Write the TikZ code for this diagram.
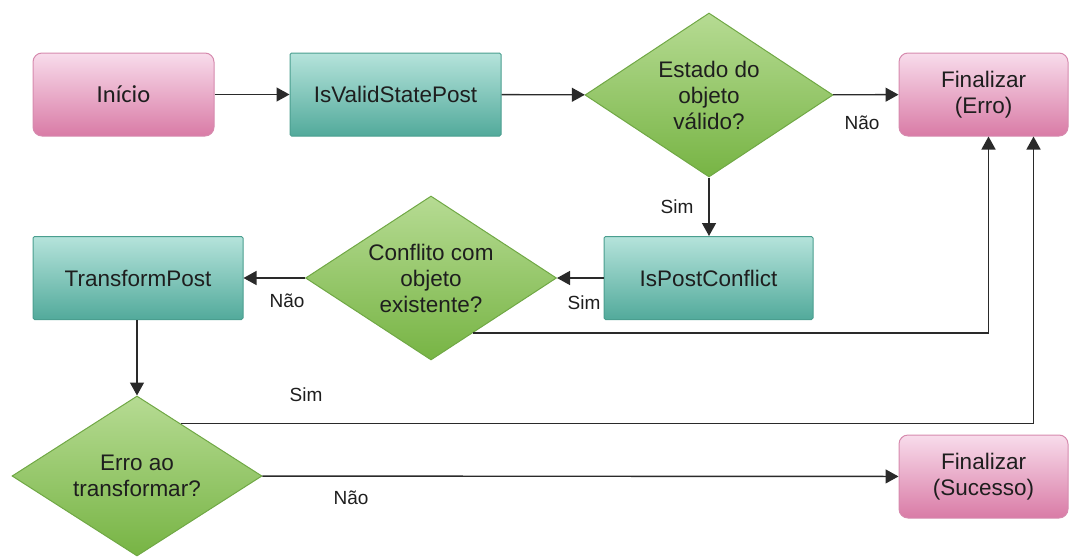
\documentclass[tikz,border=0pt]{standalone}
\usepackage{fontspec}
\setmainfont{Liberation Sans}
\newfontfamily\calib{Carlito}
\usetikzlibrary{shapes.geometric,arrows.meta,calc}
\definecolor{pinkT}{HTML}{F8DCEB}
\definecolor{pinkBot}{HTML}{D97BA6}
\definecolor{pinkB}{HTML}{D68AAE}
\definecolor{tealT}{HTML}{B5E3DB}
\definecolor{tealBot}{HTML}{52AA9B}
\definecolor{tealB}{HTML}{4A9E8F}
\definecolor{greenT}{HTML}{B6DB93}
\definecolor{greenBot}{HTML}{77B444}
\definecolor{greenB}{HTML}{70A845}
\definecolor{txt}{HTML}{1E1E1E}
\definecolor{ln}{HTML}{2A2A2A}
\begin{document}
\begin{tikzpicture}[x=1pt,y=-1pt,
  mainf/.style={font=\fontsize{22.5}{26}\selectfont, text=txt},
  pinkbox/.style={draw=pinkB, line width=1pt, rounded corners=9pt, top color=pinkT, bottom color=pinkBot,
     minimum width=169pt, minimum height=83pt, inner sep=0pt, align=center, mainf},
  tealbox/.style={draw=tealB, line width=1pt, rounded corners=1.5pt, top color=tealT, bottom color=tealBot,
     minimum width=210pt, minimum height=83pt, inner sep=0pt, align=center, mainf},
  dec/.style={diamond, draw=greenB, line width=1pt, top color=greenT, bottom color=greenBot,
     inner sep=0pt, shape aspect=1.5, align=center, mainf},
  lbl/.style={font=\fontsize{19}{22}\selectfont, text=txt, inner sep=0pt},
  arr/.style={draw=ln, line width=1.4pt, -{Triangle[length=13pt,width=14pt]}}
]
\useasboundingbox (0,0) rectangle (1070,557);

\node[pinkbox, minimum width=181pt] (inicio) at (123.5,94.5) {\calib\fontsize{24.5}{28}\selectfont Início};
\node[tealbox, minimum width=211pt] (valid) at (395.5,94.5) {IsValidStatePost};
\node[dec, minimum width=248pt, minimum height=164pt] (d1) at (709,95) {Estado do\\objeto\\válido?};
\node[pinkbox] (erro) at (983.5,94.5) {Finalizar\\(Erro)};
\node[tealbox, minimum width=209pt] (conflict) at (708.5,278) {IsPostConflict};
\node[dec, minimum width=251pt, minimum height=164pt] (d2) at (431,278) {Conflito com\\objeto\\existente?};
\node[tealbox] (transform) at (138,278) {TransformPost};
\node[dec, minimum width=250pt, minimum height=160pt] (d3) at (137,476) {Erro ao\\transformar?};
\node[pinkbox] (sucesso) at (983.5,476.5) {Finalizar\\(Sucesso)};

\draw[arr] (inicio) -- (valid);
\draw[arr] (valid) -- (d1);
\draw[arr] (d1) -- (erro);
\draw[arr] (d1.south) -- (d1.south |- conflict.north);
\draw[arr] (conflict) -- (d2);
\draw[arr] (d2) -- (transform);
\draw[arr] (transform.south -| d3.north) -- (d3.north);
\draw[arr] (d3) -- (sucesso);
\draw[arr] ($(d2.east)!0.667!(d2.south)$) -| ($(erro.south west)+(90,0)$);
\draw[arr] ($(d3.north)!0.35!(d3.east)$) -| ($(erro.south west)+(135,0)$);

\node[lbl] (l1) at (862,123) {Não};
\node[lbl] (l2) at (677,207) {Sim};
\node[lbl] (l3) at (584,303) {Sim};
\node[lbl] (l4) at (287,301) {Não};
\node[lbl] (l5) at (306,395) {Sim};
\node[lbl] (l6) at (351,498) {Não};
\end{tikzpicture}
\end{document}
